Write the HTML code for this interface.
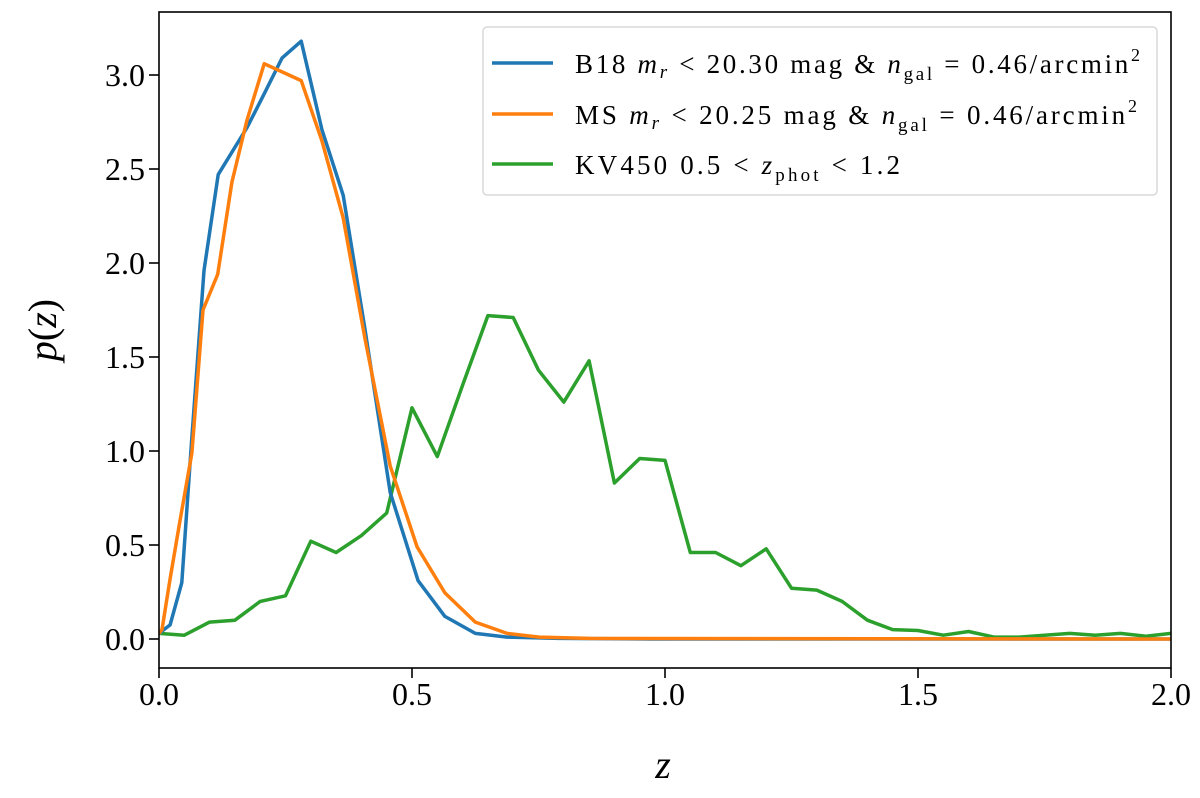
<!DOCTYPE html>
<html><head><meta charset="utf-8"><style>
body{margin:0;background:#fff;}
svg text{font-family:"Liberation Serif","DejaVu Serif",serif;fill:#000;}
</style></head><body>
<svg id="chart" width="1200" height="793" xmlns="http://www.w3.org/2000/svg">
<g id="plot"></g>
<g id="axes"></g>
<g id="legend">
  <rect x="483" y="27" width="674" height="168" rx="4" fill="#fff" fill-opacity="0.85" stroke="#d9d9d9" stroke-width="1.5"/>
  <g>
    <line x1="492" y1="63" x2="553" y2="63" stroke="#1f77b4" stroke-width="3.5"/>
    <text x="575" y="73" font-size="27" textLength="565" lengthAdjust="spacing">B18 <tspan font-style="italic">m</tspan><tspan font-style="italic" font-size="19" dy="5">r</tspan><tspan dy="-5"> &lt; 20.30 mag &amp; </tspan><tspan font-style="italic">n</tspan><tspan font-size="19" dy="7">gal</tspan><tspan dy="-7"> = 0.46/arcmin</tspan><tspan font-size="18" dy="-12">2</tspan></text>
  </g>
  <g>
    <line x1="492" y1="114" x2="553" y2="114" stroke="#ff7f0e" stroke-width="3.5"/>
    <text x="575" y="124" font-size="27" textLength="562" lengthAdjust="spacing">MS <tspan font-style="italic">m</tspan><tspan font-style="italic" font-size="19" dy="5">r</tspan><tspan dy="-5"> &lt; 20.25 mag &amp; </tspan><tspan font-style="italic">n</tspan><tspan font-size="19" dy="7">gal</tspan><tspan dy="-7"> = 0.46/arcmin</tspan><tspan font-size="18" dy="-12">2</tspan></text>
  </g>
  <g>
    <line x1="492" y1="164" x2="553" y2="164" stroke="#2ca02c" stroke-width="3.5"/>
    <text x="575" y="174" font-size="27" textLength="325" lengthAdjust="spacing">KV450 0.5 &lt; <tspan font-style="italic">z</tspan><tspan font-size="19" dy="7">phot</tspan><tspan dy="-7"> &lt; 1.2</tspan></text>
  </g>
</g>
</svg>
<script>
const xTicks=[0.0,0.5,1.0,1.5,2.0];
const xTickLabels=["0.0","0.5","1.0","1.5","2.0"];
const yTicks=[0.0,0.5,1.0,1.5,2.0,2.5,3.0];
const yTickLabels=["0.0","0.5","1.0","1.5","2.0","2.5","3.0"];
const b18Z=[0,0.022,0.045,0.063,0.089,0.117,0.174,0.208,0.243,0.281,0.322,0.364,0.407,0.457,0.512,0.565,0.625,0.688,0.79,0.97,2.0];
const b18P=[0.03,0.075,0.30,1.0,1.96,2.47,2.72,2.90,3.09,3.18,2.71,2.36,1.65,0.78,0.31,0.12,0.03,0.01,0.003,0,0];
const msZ=[0,0.006,0.022,0.041,0.065,0.087,0.116,0.144,0.174,0.208,0.281,0.322,0.364,0.407,0.457,0.510,0.565,0.625,0.688,0.751,0.85,2.0];
const msP=[0.03,0.05,0.32,0.62,0.99,1.75,1.94,2.43,2.76,3.06,2.97,2.65,2.24,1.6,0.92,0.49,0.245,0.09,0.03,0.01,0.003,0];
const kvZ=[0,0.05,0.1,0.15,0.2,0.25,0.3,0.35,0.4,0.45,0.5,0.55,0.6,0.65,0.7,0.75,0.8,0.85,0.9,0.95,1.0,1.05,1.1,1.15,1.2,1.25,1.3,1.35,1.4,1.45,1.5,1.55,1.6,1.65,1.7,1.75,1.8,1.85,1.9,1.95,2.0];
const kvP=[0.03,0.02,0.09,0.10,0.20,0.23,0.52,0.46,0.55,0.67,1.23,0.97,1.35,1.72,1.71,1.43,1.26,1.48,0.83,0.96,0.95,0.46,0.46,0.39,0.48,0.27,0.26,0.20,0.10,0.05,0.045,0.02,0.04,0.01,0.01,0.02,0.03,0.02,0.03,0.015,0.03];

const L=159,R=1171,T=12,B=668;
const sx=v=>L+(v-0)/(2-0)*(R-L);
const sy=v=>639-v*188;
const NS="http://www.w3.org/2000/svg";
const plot=document.getElementById('plot'),axes=document.getElementById('axes');
function mk(tag,attrs,parent){const e=document.createElementNS(NS,tag);for(const k in attrs)e.setAttribute(k,attrs[k]);parent.appendChild(e);return e;}

const defs=mk('clipPath',{id:'clip'},plot);
mk('rect',{x:L,y:T,width:R-L,height:B-T},defs);
function series(zs,ps,color,name){
  const pts=zs.map((z,i)=>sx(z).toFixed(1)+','+sy(ps[i]).toFixed(1)).join(' ');
  const pl=mk('polyline',{points:pts,fill:'none',stroke:color,'stroke-width':3.5,'stroke-linejoin':'round','clip-path':'url(#clip)'},plot);
  
  
}
series(kvZ,kvP,'#2ca02c','kv450-line');
series(b18Z,b18P,'#1f77b4','b18-line');
series(msZ,msP,'#ff7f0e','ms-line');

const frame=mk('rect',{x:L,y:T,width:R-L,height:B-T,fill:'none',stroke:'#000','stroke-width':1.6},axes);


xTicks.forEach((v,i)=>{
  const tk=mk('line',{x1:sx(v),x2:sx(v),y1:B,y2:B+10,stroke:'#000','stroke-width':1.6},axes);
  
  
  const t=mk('text',{x:sx(v),y:B+37,'font-size':32,'text-anchor':'middle'},axes);
  t.textContent=xTickLabels[i];
  
  
});
yTicks.forEach((v,i)=>{
  const tk=mk('line',{x1:L-10,x2:L,y1:sy(v),y2:sy(v),stroke:'#000','stroke-width':1.6},axes);
  
  
  const t=mk('text',{x:L-14,y:sy(v)+11,'font-size':32,'text-anchor':'end'},axes);
  t.textContent=yTickLabels[i];
  
  
});
const xl=mk('text',{x:663,y:778,'font-size':40,'font-style':'italic','text-anchor':'middle'},axes);
xl.textContent='z';


const yl=mk('text',{x:0,y:0,'font-size':40,'text-anchor':'middle',transform:'translate(56,330) rotate(-90)'},axes);
yl.innerHTML='<tspan font-style="italic">p</tspan>(<tspan font-style="italic">z</tspan>)';


</script>
</body></html>
